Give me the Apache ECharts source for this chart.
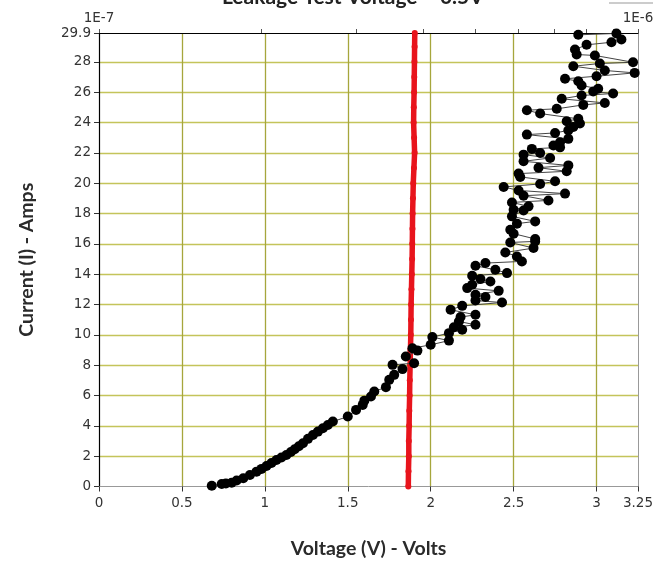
<!DOCTYPE html>
<html>
<head>
<meta charset="utf-8">
<script src="https://cdn.jsdelivr.net/npm/echarts@6/dist/echarts.min.js"></script>
<style>
html,body{margin:0;padding:0;background:#fff;}
#chart{width:656px;height:563px;}
</style>
</head>
<body>
<div id="chart"></div>
<script>
// Black series: measured points (voltage, current in units of 1E-7 A)
const blackVolts = [0.68,0.74,0.765,0.80,0.83,0.87,0.91,0.95,0.98,1.01,1.04,1.07,1.10,1.13,1.157,1.18,1.205,1.23,1.26,1.29,1.32,1.35,1.38,1.41,1.50,1.55,
  1.59,1.60,1.64,1.66,1.73,1.75,1.78,1.83,1.77,1.90,1.85,1.92,1.89,2.00,2.11,2.01,2.11,2.19,
  2.14,2.27,2.17,2.18,2.27,2.12,2.19,2.43,2.27,2.33,2.27,2.41,2.22,2.25,2.36,2.30,2.25,2.46,
  2.39,2.27,2.33,2.55,2.52,2.45,2.62,2.48,2.63,2.63,2.50,2.48,2.52,2.63,2.49,2.56,2.50,2.59,
  2.49,2.71,2.56,2.81,2.53,2.44,2.66,2.75,2.54,2.53,2.82,2.65,2.83,2.56,2.72,2.56,2.66,2.61,
  2.78,2.74,2.78,2.83,2.58,2.75,2.83,2.86,2.90,2.82,2.89,2.66,2.58,2.76,2.92,3.05,2.79,2.91,
  3.10,2.98,3.01,2.91,2.89,2.81,3.00,3.23,3.05,2.86,3.02,3.22,2.99,2.88,2.87,2.94,3.09,3.15,
  3.12,2.89];
const blackAmps = [0.05,0.17,0.20,0.25,0.40,0.54,0.76,0.98,1.16,1.35,1.55,1.75,1.91,2.08,2.28,2.46,2.65,2.85,3.14,3.40,3.62,3.84,4.06,4.28,4.61,5.05,
  5.38,5.66,5.93,6.26,6.55,7.03,7.36,7.74,8.02,8.13,8.57,8.96,9.12,9.34,9.62,9.85,10.11,10.33,
  10.50,10.66,10.88,11.17,11.32,11.65,11.91,12.13,12.26,12.49,12.64,12.90,13.08,13.30,13.52,13.68,13.89,14.07,
  14.29,14.55,14.73,14.84,15.17,15.43,15.72,16.09,16.16,16.32,16.67,16.93,17.33,17.48,17.81,18.20,18.25,18.47,
  18.73,18.86,19.17,19.31,19.52,19.75,19.95,20.12,20.41,20.63,20.78,21.02,21.17,21.44,21.66,21.88,21.99,22.26,
  22.36,22.48,22.69,22.92,23.20,23.31,23.48,23.71,23.93,24.08,24.24,24.59,24.81,24.90,25.16,25.29,25.56,25.78,
  25.91,26.04,26.22,26.44,26.72,26.88,27.05,27.27,27.43,27.71,27.89,27.97,28.42,28.48,28.81,29.12,29.29,29.47,
  29.87,29.78];

// Red series: near-vertical trace
const redVolts = [1.865,1.866,1.868,1.868,1.870,1.871,1.873,1.874,1.876,1.878,1.880,1.881,1.882,1.884,1.886,
  1.888,1.889,1.890,1.891,1.893,1.895,1.899,1.903,1.900,1.897,1.898,1.900,1.901,1.902,1.903,1.904];
const redAmps = [0,1,2,3,4,5,6,7,8,9,10,11,12,13,14,15,16,17,18,19,20,21,22,23,24,25,26,27,28,29,29.9];

// Top log axis ticks (multiples of 1E-7)
const topTickMultiples = [1,2,3,4,5,6,7,8,9,10];
const topLabels = ['1E-7','1E-6'];

const xMin = 0, xMax = 3.25, xInterval = 0.5;
const yMin = 0, yMax = 29.9, yInterval = 2;

const topTickValues = topTickMultiples.map(m => Math.log10(m * 1e-7));

const chart = echarts.init(document.getElementById('chart'));
const tickFont = {fontFamily: '"DejaVu Sans",sans-serif', fontSize: 13.5, color: '#333'};
const titleFont = 'Lato, "Open Sans", sans-serif';

chart.setOption({
  animation: false,
  backgroundColor: '#fff',
  grid: {left: 99, right: 18, top: 33, bottom: 76.5, containLabel: false, outerBoundsMode: 'none'},
  graphic: [
    {type: 'text', left: 222, top: -13, style: {text: 'Leakage Test Voltage = 0.5V', font: 'bold 21px ' + titleFont, fill: '#222'}},
    {type: 'line', shape: {x1: 609, y1: 3, x2: 653, y2: 3}, style: {stroke: '#999', lineWidth: 1}}
  ],
  xAxis: [
    {
      type: 'value', min: xMin, max: xMax, interval: xInterval, position: 'bottom',
      name: 'Voltage (V) - Volts', nameLocation: 'middle', nameGap: 52,
      nameTextStyle: {fontFamily: titleFont, fontWeight: 'bold', fontSize: 19.5, color: '#2a2a2a'},
      axisLine: {show: true, lineStyle: {color: '#999', width: 1}},
      axisTick: {show: true, inside: false, length: 5, lineStyle: {color: '#333'}},
      axisLabel: Object.assign({margin: 10, formatter: v => String(+v.toFixed(2))}, tickFont),
      splitLine: {show: true, showMinLine: false, showMaxLine: false, lineStyle: {color: '#a6a63c', width: 1.3}}
    },
    {
      type: 'value', min: -7, max: -6, position: 'top',
      axisLine: {show: true, onZero: false, lineStyle: {color: '#000', width: 1.2}},
      axisTick: {show: true, length: 4, customValues: topTickValues, lineStyle: {color: '#555'}},
      axisLabel: Object.assign({margin: 8, customValues: [-7, -6], formatter: v => (Math.round(v) === -7 ? topLabels[0] : topLabels[1])}, tickFont),
      splitLine: {show: false}
    }
  ],
  yAxis: [
    {
      type: 'value', min: yMin, max: yMax, interval: yInterval,
      name: 'Current (I) - Amps', nameLocation: 'middle', nameGap: 62, nameRotate: 90,
      nameTextStyle: {fontFamily: titleFont, fontWeight: 'bold', fontSize: 19.5, color: '#2a2a2a'},
      axisLine: {show: true, onZero: false, lineStyle: {color: '#000', width: 1.2}},
      axisTick: {show: true, length: 5, lineStyle: {color: '#333'}},
      axisLabel: Object.assign({margin: 8, formatter: v => String(+v.toFixed(1))}, tickFont),
      splitLine: {show: true, showMinLine: false, showMaxLine: false, lineStyle: {color: '#c4c45a', width: 1.3}}
    },
    {
      type: 'value', min: yMin, max: yMax, position: 'right',
      axisLine: {show: true, onZero: false, lineStyle: {color: '#999', width: 1}},
      axisTick: {show: false}, axisLabel: {show: false}, splitLine: {show: false}
    }
  ],
  series: [
    {
      type: 'line', xAxisIndex: 0, yAxisIndex: 0,
      data: redVolts.map((v, i) => [v, redAmps[i]]),
      symbol: 'circle', symbolSize: 6, showSymbol: true,
      itemStyle: {color: '#e8141c'},
      lineStyle: {color: '#e8141c', width: 5.5},
      z: 2
    },
    {
      type: 'line', xAxisIndex: 0, yAxisIndex: 0,
      data: blackVolts.map((v, i) => [v, blackAmps[i]]),
      symbol: 'circle', symbolSize: 10, showSymbol: true,
      itemStyle: {color: '#000'},
      lineStyle: {color: '#444', width: 1},
      z: 3
    }
  ]
});
</script>
</body>
</html>
